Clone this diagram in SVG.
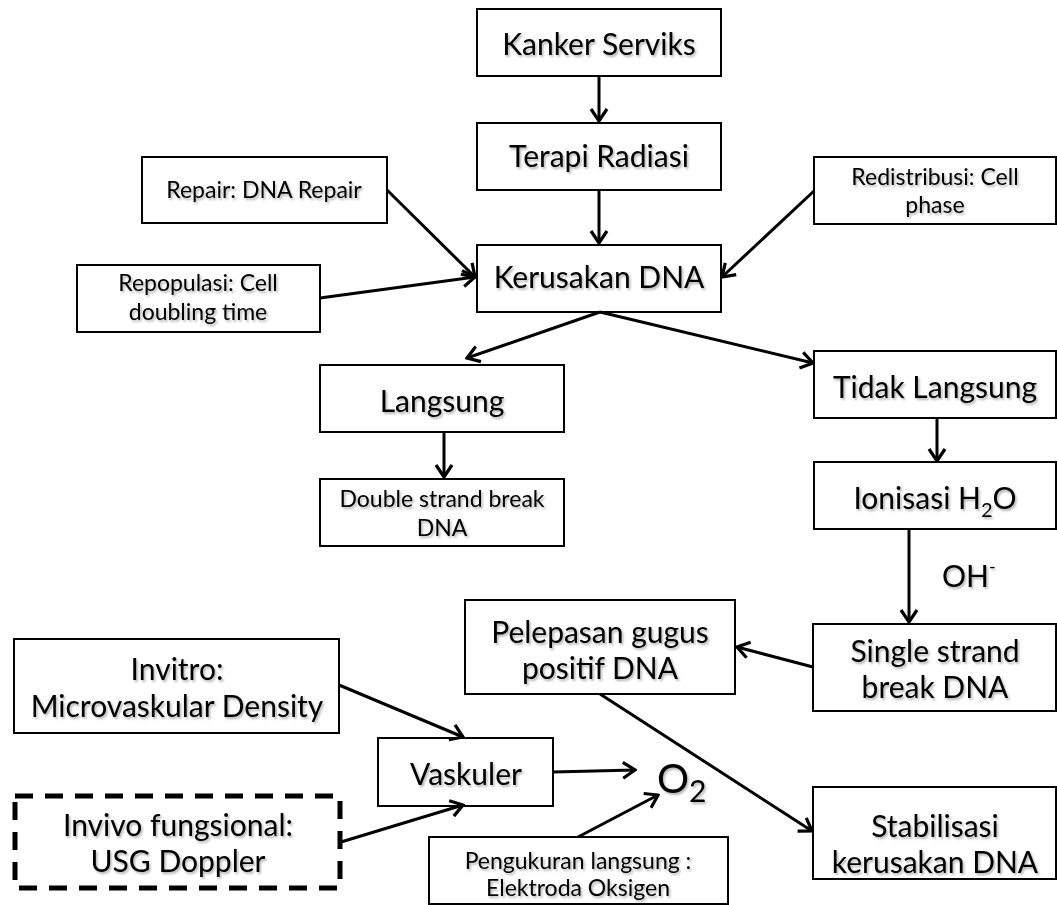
<svg xmlns="http://www.w3.org/2000/svg" width="1057" height="905" viewBox="0 0 1057 905">
<defs>
<filter id="sh" x="-10%" y="-30%" width="130%" height="170%">
<feDropShadow dx="1.5" dy="2" stdDeviation="1.2" flood-color="#000" flood-opacity="0.3"/>
</filter>
<marker id="arr" viewBox="-16 -10 18 20" markerWidth="18" markerHeight="20" refX="0" refY="0" orient="auto" markerUnits="userSpaceOnUse">
<path d="M-12,-8 L0,0 L-12,8" fill="none" stroke="#000" stroke-width="3.2" stroke-linejoin="miter"/>
</marker>
</defs>
<style>
.n rect{fill:#fff;stroke:#000;stroke-width:2}
.n .dash{stroke-width:5;stroke-dasharray:18 12}
text{font-family:Lato,"Liberation Sans",sans-serif;fill:#000;text-anchor:middle;filter:url(#sh)}
.b{font-size:30px}
.s{font-size:23px}
.c line{stroke:#000;stroke-width:3;marker-end:url(#arr)}
</style>
<rect width="1057" height="905" fill="#fff"/>
<g class="n">
<g id="kanker"><rect x="477" y="9" width="244" height="67"/><text class="b" x="599" y="55">Kanker Serviks</text></g>
<g id="terapi"><rect x="477" y="123" width="244" height="67"/><text class="b" x="599" y="167">Terapi Radiasi</text></g>
<g id="kerusakan"><rect x="477" y="245" width="244" height="67"/><text class="b" x="599" y="288">Kerusakan DNA</text></g>
<g id="repair"><rect x="142" y="157" width="245" height="66"/><text class="s" x="264" y="198">Repair: DNA Repair</text></g>
<g id="repopulasi"><rect x="77" y="265" width="243" height="67"/><text class="s" x="198" y="291">Repopulasi: Cell</text><text class="s" x="198" y="320">doubling time</text></g>
<g id="redistribusi"><rect x="814" y="157" width="242" height="67"/><text class="s" x="935" y="185">Redistribusi: Cell</text><text class="s" x="935" y="213">phase</text></g>
<g id="langsung"><rect x="320" y="365" width="244" height="67"/><text class="b" x="442" y="412">Langsung</text></g>
<g id="double"><rect x="320" y="479" width="244" height="67"/><text class="s" x="442" y="507">Double strand break</text><text class="s" x="442" y="536">DNA</text></g>
<g id="tidak"><rect x="814" y="351" width="242" height="67"/><text class="b" x="935" y="398">Tidak Langsung</text></g>
<g id="ionisasi"><rect x="814" y="462" width="242" height="67"/><text class="b" x="935" y="509">Ionisasi H<tspan font-size="20" dy="8">2</tspan><tspan dy="-8">O</tspan></text></g>
<g id="oh"><text class="b" x="942" y="587" style="text-anchor:start">OH<tspan font-size="18" dy="-14">-</tspan></text></g>
<g id="single"><rect x="813" y="624" width="243" height="87"/><text class="b" x="935" y="662">Single strand</text><text class="b" x="935" y="698">break DNA</text></g>
<g id="pelepasan"><rect x="465" y="600" width="270" height="94"/><text class="b" x="600" y="643">Pelepasan gugus</text><text class="b" x="600" y="679">positif DNA</text></g>
<g id="stabilisasi"><rect x="813" y="787" width="243" height="92"/><text class="b" x="935" y="837">Stabilisasi</text><text class="b" x="935" y="873">kerusakan DNA</text></g>
<g id="invitro"><rect x="14" y="639" width="325" height="94"/><text class="b" x="177" y="680">Invitro:</text><text class="b" x="177" y="717">Microvaskular Density</text></g>
<g id="vaskuler"><rect x="378" y="738" width="175" height="68"/><text class="b" x="466" y="785">Vaskuler</text></g>
<g id="invivo"><rect class="dash" x="15" y="796" width="325" height="92"/><text class="b" x="178" y="836">Invivo fungsional:</text><text class="b" x="178" y="872">USG Doppler</text></g>
<g id="o2"><text x="657" y="793" font-size="40" style="text-anchor:start">O<tspan font-size="30" dy="9">2</tspan></text></g>
<g id="pengukuran"><rect x="429" y="837" width="299" height="67"/><text class="s" x="578" y="869">Pengukuran langsung :</text><text class="s" x="578" y="896">Elektroda Oksigen</text></g>
</g>
<g id="connectors" class="c">
<line x1="599" y1="77" x2="599" y2="121"/>
<line x1="599" y1="191" x2="599" y2="243"/>
<line x1="387" y1="190" x2="475" y2="277"/>
<line x1="320" y1="298" x2="475" y2="277"/>
<line x1="814" y1="191" x2="722" y2="277"/>
<line x1="600" y1="312" x2="467" y2="358"/>
<line x1="600" y1="312" x2="813" y2="363"/>
<line x1="444" y1="433" x2="444" y2="477"/>
<line x1="937" y1="419" x2="937" y2="461"/>
<line x1="909" y1="530" x2="909" y2="622"/>
<line x1="813" y1="667" x2="737" y2="647"/>
<line x1="600" y1="694" x2="812" y2="831"/>
<line x1="339" y1="685" x2="463" y2="737"/>
<line x1="341" y1="842" x2="463" y2="805"/>
<line x1="553" y1="772" x2="635" y2="770"/>
<line x1="578" y1="837" x2="658" y2="795"/>
</g>
</svg>
